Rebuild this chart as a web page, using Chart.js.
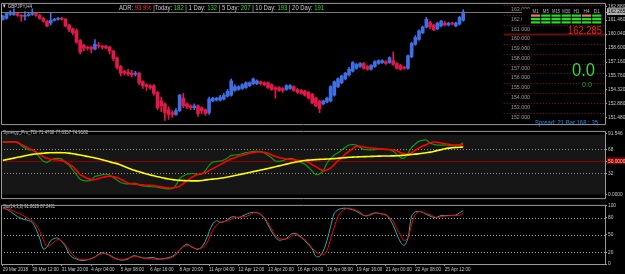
<!DOCTYPE html>
<html><head><meta charset="utf-8">
<script src="https://cdn.jsdelivr.net/npm/chart.js@4.4.1/dist/chart.umd.min.js"></script>
<style>
html,body{margin:0;padding:0;background:#000;width:625px;height:274px;overflow:hidden;}
#wrap{position:relative;width:625px;height:274px;background:#000;}
canvas{position:absolute;left:0;}
</style></head><body>
<div id="wrap">
<canvas id="cMain" width="625" height="128" style="top:0px"></canvas>
<canvas id="cTdi" width="625" height="74" style="top:128px"></canvas>
<canvas id="cSto" width="625" height="72" style="top:202px"></canvas>
</div>
<script>
// ---------------- DATA ----------------
const SYMBOL = 'GBPJPY,H4';
const TICK_LABELS = ['29 Mar 2018','30 Mar 12:00','31 Mar 20:00','4 Apr 04:00','5 Apr 08:00','6 Apr 16:00','8 Apr 20:00','11 Apr 04:00','12 Apr 12:00','13 Apr 20:00','16 Apr 04:00','18 Apr 08:00','19 Apr 16:00','21 Apr 00:00','22 Apr 08:00','25 Apr 12:00'];
const OPEN = [161.55,161.65,162.04,162.04,162.14,161.94,161.85,161.94,162.04,162.14,
161.94,161.65,161.35,161.16,161.45,161.55,161.65,161.55,160.96,160.57,
160.37,159.38,158.89,158.69,158.69,158.50,158.89,158.79,158.79,158.69,
158.30,157.61,156.72,156.23,156.13,156.03,155.93,156.03,155.15,154.85,
154.75,154.75,154.06,153.18,152.88,152.29,151.99,151.80,152.19,153.47,
152.88,152.68,152.49,152.68,152.49,152.29,151.99,153.18,153.27,153.27,
153.37,153.67,153.77,154.26,154.36,154.46,154.55,154.75,154.95,154.95,
155.15,155.05,155.05,154.85,154.55,154.55,154.46,154.36,154.46,154.65,
154.36,154.26,154.16,154.06,153.87,153.47,153.18,152.88,153.08,153.18,
153.77,154.65,155.05,155.44,155.84,156.23,156.53,156.72,157.02,156.72,
156.43,156.72,157.02,157.12,157.21,157.12,157.31,157.02,156.82,156.62,
156.53,157.71,158.99,159.48,160.17,160.76,161.25,160.96,160.57,160.86,
161.16,160.96,161.16,160.86,161.06,161.45];
const HIGH = [161.95,162.24,162.44,162.63,162.24,162.04,162.34,162.24,162.63,162.24,
162.04,161.75,161.45,162.24,161.65,161.75,161.75,161.65,161.06,160.66,
160.57,159.48,158.99,158.79,158.79,159.48,159.19,158.89,158.89,158.79,
158.40,157.71,156.82,156.33,156.43,156.33,156.23,156.13,155.24,154.95,
154.85,154.85,154.16,153.57,152.98,152.58,152.19,152.39,153.87,153.96,
152.98,152.78,152.88,152.78,152.58,152.39,153.57,153.57,153.57,153.77,
153.96,154.36,155.44,154.85,154.75,154.95,155.15,155.15,155.54,155.34,
155.24,155.15,155.15,154.95,154.65,154.65,154.55,154.85,154.85,154.75,
154.46,154.36,154.26,154.16,153.96,153.57,153.27,153.27,153.57,154.75,
155.24,155.54,155.84,156.13,156.62,157.21,157.02,157.12,157.12,156.82,
156.92,157.31,157.41,157.41,157.31,157.71,158.20,157.12,156.92,156.72,
157.90,159.19,159.88,160.47,160.86,161.75,161.35,161.06,161.25,161.45,
161.35,161.25,161.25,161.25,161.85,162.53];
const LOW = [161.45,161.55,161.94,161.94,161.85,161.35,161.45,161.85,161.94,161.85,
161.55,161.25,160.76,160.96,161.35,161.45,161.45,160.76,160.27,159.97,
159.09,158.00,158.30,158.40,158.10,158.40,158.59,158.50,158.50,158.00,
157.31,156.43,155.74,155.84,155.74,155.64,155.74,154.85,154.46,154.26,
154.36,153.77,152.29,152.09,151.20,151.30,151.50,151.70,152.09,152.49,
152.39,152.29,152.29,151.60,151.89,151.70,151.80,153.08,153.18,153.18,
153.27,153.57,153.67,154.16,154.26,154.36,154.46,154.65,154.85,154.85,
154.85,154.75,154.46,154.26,153.47,154.16,154.06,154.26,154.36,154.16,
153.96,153.87,153.67,153.37,152.88,152.58,151.99,152.78,152.98,153.08,
153.67,154.55,154.95,155.34,155.74,156.13,156.43,156.62,156.43,156.33,
156.33,156.62,156.92,157.02,156.92,157.02,156.82,156.43,156.33,156.43,
156.43,157.61,158.89,159.38,160.07,160.66,160.57,160.37,160.47,160.76,
160.86,160.86,160.96,160.76,160.96,161.35];
const CLOSE = [161.85,162.14,162.14,162.14,161.94,161.85,161.94,162.04,162.14,161.94,
161.65,161.35,160.86,161.45,161.55,161.65,161.55,160.86,160.47,160.17,
159.19,158.20,158.59,158.59,158.50,158.99,158.79,158.69,158.59,158.30,
157.51,156.62,156.03,156.03,155.93,155.84,156.03,155.05,154.75,154.65,
154.55,153.96,152.49,152.68,151.99,151.80,151.80,152.19,153.77,152.68,
152.58,152.49,152.68,151.89,152.19,151.89,153.37,153.47,153.47,153.57,
153.77,154.16,155.24,154.65,154.65,154.85,155.05,155.05,155.44,155.24,
154.95,154.85,154.55,154.36,154.36,154.26,154.26,154.75,154.75,154.26,
154.06,153.96,153.77,153.47,152.98,152.68,152.39,153.18,153.47,154.65,
155.15,155.44,155.74,156.03,156.43,157.12,156.92,157.02,156.53,156.43,
156.82,157.21,157.31,157.31,157.02,157.61,156.92,156.53,156.43,156.53,
157.81,159.09,159.68,160.37,160.76,161.55,160.76,160.47,161.16,161.35,
160.96,161.16,161.06,161.16,161.75,162.285];
const BID = 162.285;
const PRICE_AXIS_TICKS = [162.88,161.46,160.04,158.60,157.16,155.76,154.32,152.88,151.48];
const ROUND_LEVELS = [163,162,161,160,159,158,157,156,155,154,153,152];
const MAJOR_LEVEL = 160;

const TDI_PRICE = [79,79,79.5,79.5,78.5,74,70,67.5,67,63,56,50,48.5,52,54,54.5,53.5,48,44,37,
30,23,21,20.5,21.5,27,28.5,30,30.5,29,25.5,22,18,16.5,16,16.5,17,14.5,13,12.5,
12,11.5,11,10,9,8.5,9,14,24,28,30.5,31.5,31.5,30,31,36,44,49,49.5,50.5,
52,55,59,59.5,60,61.5,63,64,65,65,64.5,62.5,59,55,50.5,50,51,53,54.5,53.5,
50.5,48,45.5,41,35,30,31,36,47,54,59.5,63,67,71,74.5,75,74.5,71,68,67.5,
67,67.5,68.5,68.5,68,67.5,65,60.5,55.5,55,62,71,76,80,81.5,82,77.5,75.5,74.5,74.5,
74.5,74.5,73.5,73,75,77.84];
const TDI_SIGNAL = [79,79,79,79,78.5,75.5,72.5,69.5,67.5,64,60.5,57,54.5,53,52.5,52,51,49.5,45.5,42,
36,30,27,24,22.5,22.5,24,25.5,27,27.5,27,25.5,23,20,17.5,16,15.5,15,14.5,14,
14,13.5,12.5,11.5,10.5,10,9.8,10.5,12.5,16.5,20.5,25,28,30.5,31.5,33,36,39,42,45,
48,51,53.5,55.5,57.5,59,60.5,62,63.5,64,64,63.5,62,59.5,57.5,55.5,54.5,53.5,53,52.5,
51.5,51,51,48.5,45,42,38.5,36,37,40,45,51,55.5,61,65,69,72.5,72.5,71.5,70.5,
70,69.5,69,68.5,68,67.5,67,66,63,61.5,60.5,63,66.5,70,73,75,78,79,78.5,77.5,
76.5,75.5,74.5,74.5,74.5,74.92];
const TDI_BASE = [51.4,52.5,53.7,54.8,56,57.1,58.3,59.4,60.5,61.1,61.7,62.2,62.7,62.9,63,63,63,62.9,62.3,61.4,
60.5,59.5,58.5,57.3,56.2,55,53.8,52.3,50.8,49.3,47.8,46.5,44.4,42.2,40,37.8,36,34.3,32.6,30.9,
29.5,28.2,26.9,25.6,24.3,23.3,22.5,21.8,21.3,21,20.8,20.6,20.5,20.6,21.1,22,22.6,23.2,23.8,24.6,
25.3,26.3,27.4,28.6,29.7,30.9,32.1,33.3,34.5,35.6,36.8,38,39.3,40.5,41.8,43.1,44.4,45.8,47.1,48.3,
49.4,50.5,51.3,51.8,52.2,52.6,52.9,53.1,53.4,53.7,54.1,54.6,55.1,55.6,56,56.3,56.5,56.8,57,57.2,
57.4,57.6,57.8,57.9,58,58.1,58.2,58.3,58.7,59.2,59.7,60.3,60.8,61.5,62.2,63,63.8,64.9,66.2,67.5,
68.8,69.8,70.3,70.7,71.1,71.47];
const TDI_LEVELS = [68,32];
const TDI_MID = 50;
const TDI_AXIS_TICKS = [91.546,68,50,32,0];

const STO_MAIN = [96,94.2,90.5,86,81.5,78,76.2,74.8,71.7,60,44.6,25.8,29.4,40.2,43.8,44.6,38.4,30.2,17.6,11.3,
8.6,6.4,6,7.3,9.1,12.2,16.8,19.4,17.6,15.4,11.3,8.6,6.9,6.9,8.6,13.2,14.1,12.2,10.5,10.3,
10.9,10.9,9.1,8.6,9.5,10.9,13.2,17.6,24,30.2,34.3,30.2,27.1,25.3,29.4,39.3,55.5,69,74.4,71.7,
72.6,76.2,80.7,81.1,79.8,82.5,85.2,87.9,88.8,88.3,85.2,78.9,67.2,55.5,46.5,41,42,43.8,50,52.8,
51,46.5,40.2,33,25.8,13.2,13.2,22.2,40.2,64.5,87,93.3,95.5,96,95,93.3,90.5,87,83.4,83.4,
86,87.9,87.4,86,85.2,78,66.3,51,37.5,32,44.6,82.5,89.7,90.5,88.8,85.2,82.5,80.2,80.7,83.4,
83.4,83.4,83.4,84.3,88,91.86];
const STO_SIGNAL = [96,95,93.3,91,87.9,85.6,81.5,78,74.8,67.2,56.4,42,30.2,33,38.4,42,39.3,33,24,15.8,
10.4,7.8,7.3,7.6,9.1,12.2,15.4,17.6,18.1,14.5,10.4,8.6,7.8,8.2,10,11.8,12.7,12.2,10.9,9.5,
9.1,8.6,7.8,8.2,8.6,9.5,11.8,15.8,24,29.4,31.6,30.7,27.5,26.2,27.5,32,43.8,58.2,66.3,71.7,
72.6,74.4,77,79.8,80.2,81.1,81.6,84.3,87.9,88.3,85.2,79.8,70.8,60,49.2,44.6,42.9,42.9,46.5,50,
49.2,45.6,42.4,35.7,27.5,21.2,17.6,15.8,23,43.8,63.6,81.6,90.5,94.6,96,94.2,92.4,89.2,84.3,82.5,
84.7,87,87.4,85.6,83.8,79.8,73.5,60,49.2,40.2,45.6,68,85.2,90.1,88.8,86.5,85.2,81.5,79.8,81.5,
82.5,82.9,83.4,83.4,83.8,87.24];
const STO_LEVELS = [80,50,20];
const STO_AXIS_TICKS = [100,80,50,20,0];

const ADR_PARTS = [['ADR: ','w'],['93.9%','r'],[' |Today: ','w'],['182','g'],[' | 1 Day: ','w'],['132','g'],[' | 5 Day: ','w'],['207','g'],[' | 10 Day: ','w'],['193','g'],[' | 20 Day: ','w'],['191','g']];
const TF_NAMES = ['M1','M5','M15','M30','H1','H4','D1'];
const TF_ROWS = [[0,1,1,1,1,0,1],[1,1,1,1,1,1,1],[1,1,1,1,1,1,1]];
const BIG_PRICE = '162.285';
const PIPS_BIG = '0.0', PIPS_SMALL = '0.0';
const SPREAD_TEXT = 'Spread: 21 Bar 168 : 35';
const TDI_TITLE = 'Synergy_Pro_TDI 71.4738 77.8357 74.9183';
const STO_TITLE = 'Sto(14,3,3) 91.8629 87.2431';

// ---------------- SETUP ----------------
const SLOTS = 164;           // bar slots visible incl. right shift
const CATS = [];
for (let i = 0; i < SLOTS; i++) CATS.push(i % 8 === 0 && TICK_LABELS[i/8] ? TICK_LABELS[i/8] : '');
const FONT = "'Liberation Sans',Arial,sans-serif";
const UP = '#3f6fe6', DN = '#e3174a';
const FRAME = '#9a9a9a', TXT = '#c8c8c8';
const candleColors = OPEN.map((o,i) => CLOSE[i] >= o ? UP : DN);

const base = {
  responsive:false, animation:false, devicePixelRatio:1, events:[],
  plugins:{legend:{display:false}, tooltip:{enabled:false}}
};

const framePlugin = {
  id:'frame',
  beforeDraw(c){ const ctx=c.ctx; ctx.save(); ctx.fillStyle='#000'; ctx.fillRect(0,0,c.width,c.height); ctx.restore(); },
  afterDraw(c){
    const a=c.chartArea, ctx=c.ctx; ctx.save(); ctx.strokeStyle=FRAME; ctx.lineWidth=1; ctx.beginPath();
    ctx.moveTo(a.left+0.5, a.top-0.5); ctx.lineTo(a.right+0.5, a.top-0.5);
    ctx.moveTo(a.left+0.5, a.bottom+0.5); ctx.lineTo(a.right+0.5, a.bottom+0.5);
    ctx.moveTo(a.left+0.5, a.top-0.5); ctx.lineTo(a.left+0.5, a.bottom+0.5);
    ctx.moveTo(a.right+0.5, a.top-0.5); ctx.lineTo(a.right+0.5, a.bottom+0.5);
    ctx.stroke(); ctx.restore();
  }
};

function drawFit(ctx, parts, x, y, width, size, align){
  ctx.save(); ctx.font = size+'px '+FONT;
  let total = 0; parts.forEach(p => total += ctx.measureText(p[0]).width);
  const sx = width/total;
  ctx.translate(align==='right' ? x-width : x, y); ctx.scale(sx,1);
  let cx = 0; ctx.textBaseline='alphabetic'; ctx.textAlign='left';
  parts.forEach(p => { ctx.fillStyle=p[1]; ctx.fillText(p[0], cx, 0); cx += ctx.measureText(p[0]).width; });
  ctx.restore();
}

function yAxisCommon(tickList, fmt, extra){
  return Object.assign({
    position:'right',
    afterFit(s){ s.width = 20; },
    afterBuildTicks(s){ s.ticks = tickList.map(v => ({value:v})); },
    border:{display:false},
    grid:{drawOnChartArea:false, drawTicks:true, tickLength:2, color:FRAME},
    ticks:{autoSkip:false, padding:1, color:TXT, font:{size:4.8, family:FONT}, callback: fmt}
  }, extra||{});
}

// ---------------- MAIN PRICE CHART ----------------
const mainOverlay = {
  id:'mainOverlay',
  afterDatasetsDraw(c){
    const ctx=c.ctx, ys=c.scales.y, xs=c.scales.x, a=c.chartArea;
    ctx.save();
    const yb = Math.round(ys.getPixelForValue(BID))+0.5;
    ctx.strokeStyle='#777'; ctx.lineWidth=1; ctx.beginPath(); ctx.moveTo(a.left,yb); ctx.lineTo(a.right,yb); ctx.stroke();
    const x0 = xs.getPixelForValue(136);
    ROUND_LEVELS.forEach(L => {
      const y = Math.round(ys.getPixelForValue(L))+0.5;
      ctx.beginPath();
      if (L === MAJOR_LEVEL){ ctx.setLineDash([]); ctx.lineWidth=2; ctx.strokeStyle='#6a0c0c'; }
      else { ctx.setLineDash([1,2]); ctx.lineWidth=1; ctx.strokeStyle='#8a1a1a'; }
      ctx.moveTo(x0,y); ctx.lineTo(a.right,y); ctx.stroke();
      ctx.setLineDash([]);
      drawFit(ctx, [[L.toFixed(3),'#9a9a9a']], 530, y+5, 19, 6, 'right');
    });
    ctx.fillStyle='#000'; ctx.fillRect(522,9,83,15);
    const cellX = 531, cellW = 9.2, gap = 1;
    TF_NAMES.forEach((n,k) => drawFit(ctx, [[n,'#b8b8b8']], cellX + k*(cellW+gap) + cellW/2 - (n.length>2?4:3), 13, n.length>2?8:6, 5));
    TF_ROWS.forEach((row,r) => row.forEach((v,k) => {
      ctx.fillStyle = v ? '#22dd22' : '#f07a6a';
      ctx.fillRect(cellX + k*(cellW+gap), 14.5 + r*3.4, cellW, 2.2);
    }));
    drawFit(ctx, [[BIG_PRICE,'#ff1e1e']], 602, 34, 34, 10, 'right');
    drawFit(ctx, [[PIPS_BIG,'#33dd33']], 572, 76, 23, 18);
    drawFit(ctx, [[PIPS_SMALL,'#22b022']], 582, 87, 10, 7);
    drawFit(ctx, [[SPREAD_TEXT,'#1e8fe8']], 535, 125, 63, 6.5);
    drawFit(ctx, [['\u25BC '+SYMBOL,'#d0d0d0']], 2, 8, 30, 6);
    const col = {w:'#c8c8c8', r:'#ff3030', g:'#22dd22'};
    drawFit(ctx, ADR_PARTS.map(p => [p[0], col[p[1]]]), 119, 10, 205, 7);
    ctx.restore();
  }
};

new Chart(document.getElementById('cMain'), {
  type:'bar',
  data:{labels:CATS, datasets:[
    {data: LOW.map((l,i) => [l, HIGH[i]]), backgroundColor:candleColors, barThickness:1, grouped:false, order:2},
    {data: OPEN.map((o,i) => [o, CLOSE[i]]), backgroundColor:candleColors, barThickness:3, minBarLength:1, grouped:false, order:1}
  ]},
  options: Object.assign({}, base, {
    layout:{padding:{left:1, top:2, bottom:1, right:0}},
    scales:{
      x:{display:false, offset:true},
      y: yAxisCommon(PRICE_AXIS_TICKS.concat([BID]), v => v.toFixed(3), {
        min:150.81, max:163.126,
        ticks:{autoSkip:false, padding:1, font:{size:4.8, family:FONT},
          color: c => c.tick && c.tick.value===BID ? '#000' : TXT,
          showLabelBackdrop: c => !!(c.tick && c.tick.value===BID),
          backdropColor:'#b0b0b0', backdropPadding:{left:1,right:1,top:1,bottom:0},
          callback: v => v.toFixed(3)}
      })
    }
  }),
  plugins:[framePlugin, mainOverlay]
});

// ---------------- TDI ----------------
const tdiFmt = v => v===50 ? '50.0000' : (v===0 ? '0.0000' : (Number.isInteger(v) ? String(v) : v.toFixed(3)));
const tdiOverlay = {
  id:'tdiOverlay',
  beforeDatasetsDraw(c){
    const ctx=c.ctx, ys=c.scales.y, a=c.chartArea; ctx.save();
    const yt = ys.getPixelForValue(90), yb = ys.getPixelForValue(0);
    ctx.fillStyle='#161616'; ctx.fillRect(a.left+1, yt, a.right-a.left-1, yb-yt);
    TDI_LEVELS.forEach(L => { const y=Math.round(ys.getPixelForValue(L))+0.5; ctx.setLineDash([1,2]); ctx.strokeStyle='#8a8a8a'; ctx.lineWidth=1; ctx.beginPath(); ctx.moveTo(a.left,y); ctx.lineTo(a.right,y); ctx.stroke(); });
    ctx.setLineDash([]);
    const ym = Math.round(ys.getPixelForValue(TDI_MID))+0.5;
    ctx.strokeStyle='#8b0000'; ctx.beginPath(); ctx.moveTo(a.left,ym); ctx.lineTo(a.right,ym); ctx.stroke();
    ctx.restore();
  },
  afterDatasetsDraw(c){ drawFit(c.ctx, [[TDI_TITLE, '#d0d0d0']], 3, 5.5, 85, 6); }
};
new Chart(document.getElementById('cTdi'), {
  type:'line',
  data:{labels:CATS, datasets:[
    {data:TDI_BASE, borderColor:'#ffff00', borderWidth:1.6, pointRadius:0, tension:0.35},
    {data:TDI_SIGNAL, borderColor:'#ff0000', borderWidth:1.6, pointRadius:0, tension:0.35},
    {data:TDI_PRICE, borderColor:'#0c9a0c', borderWidth:1.2, pointRadius:0, tension:0.35}
  ]},
  options: Object.assign({}, base, {
    layout:{padding:{left:1, top:1, bottom:0, right:0}},
    scales:{
      x:{display:false, offset:true},
      y: yAxisCommon(TDI_AXIS_TICKS, tdiFmt, {
        min:-5.4, max:94.3,
        ticks:{autoSkip:false, padding:1, font:{size:4.8, family:FONT},
          color: c => c.tick && c.tick.value===50 ? '#e8c8c8' : TXT,
          showLabelBackdrop: c => !!(c.tick && c.tick.value===50),
          backdropColor:'#8b0000', backdropPadding:{left:1,right:1,top:1,bottom:0},
          callback: tdiFmt}
      })
    }
  }),
  plugins:[framePlugin, tdiOverlay]
});

// ---------------- STOCHASTIC ----------------
const stoOverlay = {
  id:'stoOverlay',
  beforeDatasetsDraw(c){
    const ctx=c.ctx, ys=c.scales.y, a=c.chartArea; ctx.save();
    STO_LEVELS.forEach(L => { const y=Math.round(ys.getPixelForValue(L))+0.5; ctx.setLineDash([1,2]); ctx.strokeStyle='#a0a0a0'; ctx.lineWidth=1; ctx.beginPath(); ctx.moveTo(a.left,y); ctx.lineTo(a.right,y); ctx.stroke(); });
    ctx.restore();
  },
  afterDatasetsDraw(c){ drawFit(c.ctx, [[STO_TITLE, '#d0d0d0']], 3, 6, 52, 6); }
};
new Chart(document.getElementById('cSto'), {
  type:'line',
  data:{labels:CATS, datasets:[
    {data:STO_SIGNAL, borderColor:'#ff0000', borderWidth:1, pointRadius:0, tension:0.35},
    {data:STO_MAIN, borderColor:'#20b2aa', borderWidth:1, pointRadius:0, tension:0.35}
  ]},
  options: Object.assign({}, base, {
    layout:{padding:{left:1, top:1, bottom:0, right:0}},
    scales:{
      x:{offset:true, afterFit(s){ s.height = 10; },
         afterBuildTicks(s){ s.ticks = s.ticks.filter(t => CATS[t.value]); },
         border:{display:false},
         grid:{drawOnChartArea:false, drawTicks:true, tickLength:2, color:FRAME},
         ticks:{autoSkip:false, maxRotation:0, minRotation:0, align:'start', padding:1, color:TXT, font:{size:4.5, family:FONT}}},
      y: yAxisCommon(STO_AXIS_TICKS, v => String(v), {min:0, max:100})
    }
  }),
  plugins:[framePlugin, stoOverlay]
});
</script>
</body></html>
